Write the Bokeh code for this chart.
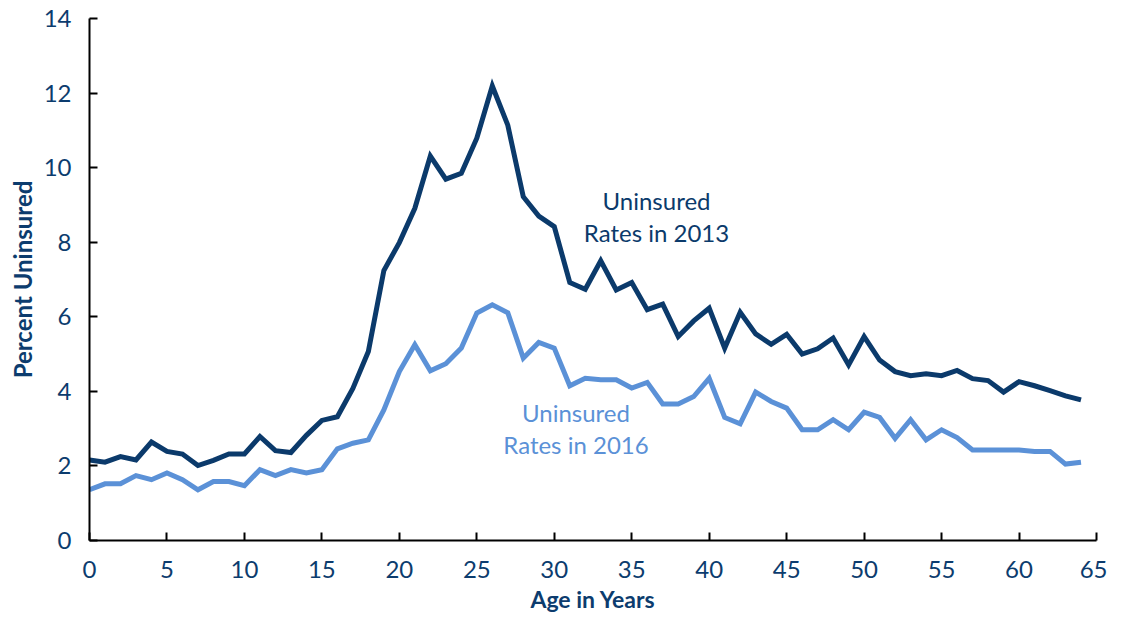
from bokeh.plotting import figure
from bokeh.models import Range1d, FixedTicker, Label
from bokeh.embed import file_html
from bokeh.resources import INLINE

ages = list(range(0, 65))
rate_2013 = [2.16, 2.10, 2.25, 2.16, 2.64, 2.39, 2.32, 2.01, 2.15, 2.32,
             2.32, 2.79, 2.41, 2.36, 2.82, 3.22, 3.32, 4.08, 5.07, 7.24,
             7.99, 8.91, 10.31, 9.69, 9.85, 10.79, 12.19, 11.14, 9.22, 8.70,
             8.42, 6.92, 6.74, 7.50, 6.72, 6.92, 6.19, 6.34, 5.47, 5.89,
             6.23, 5.16, 6.12, 5.54, 5.26, 5.53, 5.00, 5.14, 5.43, 4.71,
             5.47, 4.84, 4.53, 4.42, 4.47, 4.42, 4.56, 4.34, 4.29, 3.98,
             4.26, 4.15, 4.02, 3.88, 3.77]
rate_2016 = [1.36, 1.52, 1.52, 1.74, 1.63, 1.81, 1.63, 1.36, 1.58, 1.58,
             1.47, 1.90, 1.74, 1.90, 1.81, 1.90, 2.46, 2.61, 2.70, 3.50,
             4.53, 5.25, 4.55, 4.74, 5.16, 6.10, 6.32, 6.11, 4.89, 5.31,
             5.16, 4.15, 4.35, 4.31, 4.31, 4.09, 4.24, 3.66, 3.66, 3.86,
             4.35, 3.30, 3.13, 3.98, 3.73, 3.55, 2.97, 2.97, 3.24, 2.97,
             3.44, 3.30, 2.74, 3.24, 2.70, 2.97, 2.76, 2.43, 2.43, 2.43,
             2.43, 2.39, 2.39, 2.05, 2.10]
x_ticks = [0, 5, 10, 15, 20, 25, 30, 35, 40, 45, 50, 55, 60, 65]
y_ticks = [0, 2, 4, 6, 8, 10, 12, 14]

DARK = "#0b3a6b"
LIGHT = "#5b91d7"
TEXT = "#0c3c6e"
FONT = "Lato"

p = figure(width=1107, height=615, output_backend="svg", toolbar_location=None,
           x_range=Range1d(0, 65), y_range=Range1d(0, 14),
           min_border_left=89, min_border_right=11, min_border_top=18, min_border_bottom=74)
p.outline_line_color = None
p.grid.grid_line_color = None
p.background_fill_color = "white"

p.line(ages, rate_2013, line_color=DARK, line_width=5, line_join="miter")
p.line(ages, rate_2016, line_color=LIGHT, line_width=5, line_join="miter")

for x, y, t, c in [(36.6, 9.13, "Uninsured", DARK), (36.6, 8.25, "Rates in 2013", DARK),
                   (31.4, 3.43, "Uninsured", LIGHT), (31.4, 2.57, "Rates in 2016", LIGHT)]:
    p.add_layout(Label(x=x, y=y, text=t, text_align="center", text_baseline="middle",
                       text_font=FONT, text_font_size="24px", text_color=c))

xa = p.xaxis[0]
xa.ticker = FixedTicker(ticks=x_ticks)
xa.major_tick_in = 8
xa.major_tick_out = 0
xa.minor_tick_line_color = None
xa.axis_line_width = 2
xa.major_tick_line_width = 2
xa.axis_line_color = "black"
xa.major_tick_line_color = "black"
xa.major_label_text_font = FONT
xa.major_label_text_font_size = "24px"
xa.major_label_text_color = TEXT
xa.major_label_standoff = 20
xa.axis_label = "Age in Years"
xa.axis_label_text_font = FONT
xa.axis_label_text_font_style = "bold"
xa.axis_label_text_font_size = "23px"
xa.axis_label_text_color = TEXT
xa.axis_label_standoff = 4

ya = p.yaxis[0]
ya.ticker = FixedTicker(ticks=y_ticks)
ya.major_tick_in = 8
ya.major_tick_out = 0
ya.minor_tick_line_color = None
ya.axis_line_width = 2
ya.major_tick_line_width = 2
ya.axis_line_color = "black"
ya.major_tick_line_color = "black"
ya.major_label_text_font = FONT
ya.major_label_text_font_size = "24px"
ya.major_label_text_color = TEXT
ya.major_label_standoff = 18
ya.axis_label = "Percent Uninsured"
ya.axis_label_text_font = FONT
ya.axis_label_text_font_style = "bold"
ya.axis_label_text_font_size = "24px"
ya.axis_label_text_color = TEXT
ya.axis_label_standoff = 4

open("out.html", "w").write(file_html(p, INLINE))
